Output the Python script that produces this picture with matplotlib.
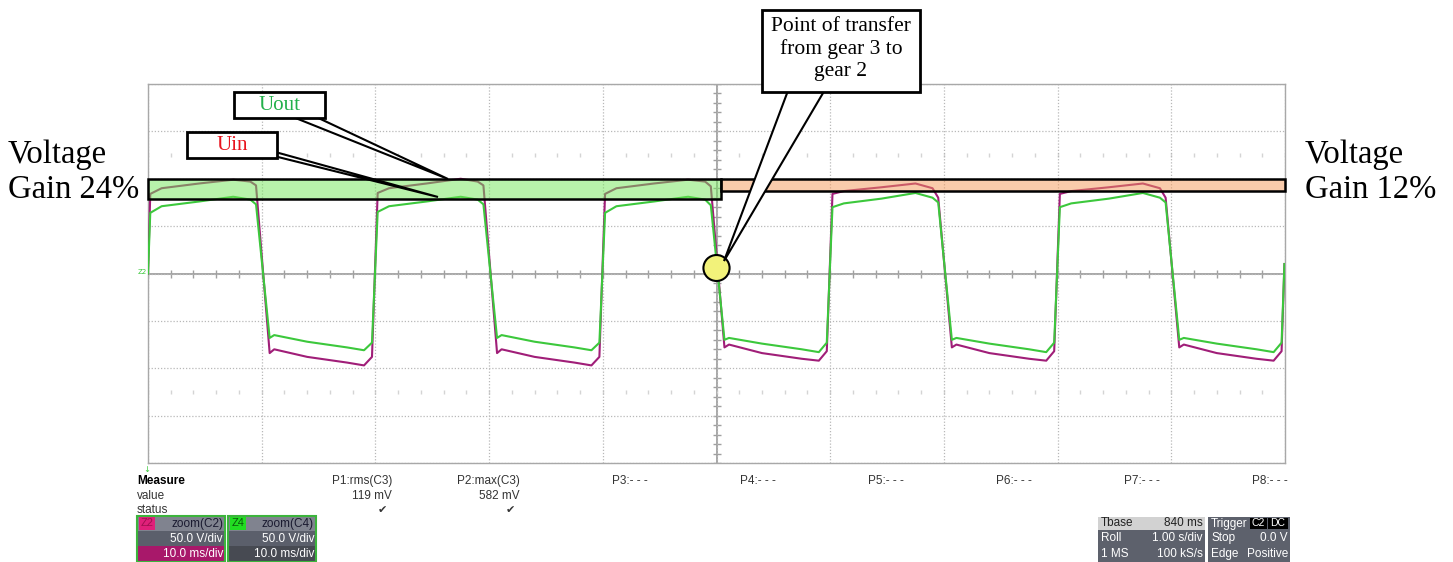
import numpy as np
import matplotlib.pyplot as plt
from matplotlib.patches import Rectangle, Polygon, Ellipse

W, H = 1453, 562

# half-cycle edge times (ms)
time_edges = [0, 10, 20, 30, 40, 50, 60, 70, 80, 90]
high_offsets = [0.2, 1.2, 4.5, 7.5, 9.0, 9.5]
low_offsets = [0.7, 1.1, 4.0, 7.5, 9.0, 9.7]

# Uout (magenta) levels per half-cycle, volts
uout_levels = [
    [84, 90, 95, 99, 97, 93],
    [-84, -80, -88, -94, -97, -88],
    [85, 90, 95, 100, 97, 93],
    [-84, -80, -88, -94, -97, -88],
    [84, 90, 95, 99, 97, 92],
    [-78, -75, -84, -90, -92, -82],
    [84, 87, 91, 95, 90, 80],
    [-78, -75, -84, -90, -92, -82],
    [84, 87, 91, 95, 90, 80],
    [-78, -75, -84, -90, -92, -82],
]
# Uin (green) levels per half-cycle, volts
uin_levels = [
    [64, 71, 76, 81, 78, 73],
    [-68, -65, -72, -78, -81, -73],
    [65, 71, 76, 81, 78, 73],
    [-68, -65, -72, -78, -81, -73],
    [64, 71, 76, 81, 78, 72],
    [-70, -68, -74, -80, -83, -73],
    [70, 74, 79, 85, 80, 75],
    [-70, -68, -74, -80, -83, -73],
    [70, 74, 79, 85, 80, 75],
    [-70, -68, -74, -80, -83, -73],
]
trace_start = (0.0, 0.0)
trace_end = (99.95, 10.0)

measure_labels = ["P1:rms(C3)", "P2:max(C3)", "P3:- - -", "P4:- - -",
                  "P5:- - -", "P6:- - -", "P7:- - -", "P8:- - -"]
measure_values = ["119 mV", "582 mV", "", "", "", "", "", ""]
measure_status = ["\u2714", "\u2714", "", "", "", "", "", ""]

SERIF = "Liberation Serif"
SANS = "Liberation Sans"


def build_trace(levels):
    t, v = [trace_start[0]], [trace_start[1]]
    for i, lv in enumerate(levels):
        offs = high_offsets if i % 2 == 0 else low_offsets
        t += [time_edges[i] + o for o in offs]
        v += lv
    t.append(trace_end[0])
    v.append(trace_end[1])
    return t, v


def P(x, y):
    return (x / W, 1 - y / H)


def ftext(x, y, s, **kw):
    fig.text(x / W, 1 - y / H, s, **kw)


def frect(x0, y0, x1, y1, **kw):
    r = Rectangle(P(x0, y1), (x1 - x0) / W, (y1 - y0) / H,
                  transform=fig.transFigure, **kw)
    fig.add_artist(r)


fig = plt.figure(figsize=(W / 100, H / 100), dpi=100)
ax = fig.add_axes([148 / W, 1 - 463 / H, (1285 - 148) / W, (463 - 84) / H])
ax.set_xlim(0, 100)
ax.set_ylim(-200, 200)
ax.set_xticks(np.arange(0, 101, 10))
ax.set_yticks(np.arange(-200, 201, 50))
ax.tick_params(length=0, labelleft=False, labelbottom=False)
ax.grid(True, ls=(0, (1, 1.5)), color="#b8b8b8", lw=0.9)
for sp in ax.spines.values():
    sp.set_color("#a8a8a8")
    sp.set_linewidth(1.0)

# centre crosshair with minor ticks
ax.axhline(0, color="#a0a0a0", lw=1.3, zorder=1)
ax.axvline(50, color="#a0a0a0", lw=1.3, zorder=1)
xt = np.arange(0, 100.1, 2)
yt = np.arange(-200, 200.1, 10)
ax.plot(xt, np.zeros_like(xt), "|", ms=6, color="#a0a0a0", zorder=1)
ax.plot(np.full_like(yt, 50), yt, "_", ms=6, color="#a0a0a0", zorder=1)
for yy in (125, -125):
    ax.plot(xt, np.full_like(xt, yy), "|", ms=3, color="#d4d4d4", zorder=1)

t_out, v_out = build_trace(uout_levels)
t_in, v_in = build_trace(uin_levels)
ax.plot(t_out, v_out, color="#a01e78", lw=1.5, zorder=3)
ax.plot(t_in, v_in, color="#3cc83c", lw=1.5, zorder=4)

# gain bands (translucent)
ax.add_patch(Rectangle((0, 78.6), 50.4, 21.1, facecolor=(0.45, 0.9, 0.35, 0.5),
                       edgecolor="black", lw=1.8, clip_on=False, zorder=5))
ax.add_patch(Rectangle((50.4, 87.0), 49.6, 12.7, facecolor=(0.96, 0.6, 0.35, 0.5),
                       edgecolor="black", lw=1.8, clip_on=False, zorder=5))
ax.add_patch(Ellipse((50, 5.8), 2.3, 27.4, facecolor="#f2f27a",
                     edgecolor="black", lw=1.5, zorder=7))

# Z2 marker and arrow
ftext(142, 272, "Z2", fontsize=5, color="#3cc83c", ha="center", va="center")
ftext(147, 470, "\u2193", fontsize=6, color="#3cc83c", ha="center", va="center")

# callouts
callouts = [
    # box, wedge polygon (pixel coords), text, colour
    ((234, 92, 325, 118), [(288, 115), (312, 115), (448, 179)], "Uout", "#22b04a"),
    ((187, 132, 277, 158), [(268, 150), (274, 156), (438, 197)], "Uin", "#e8141e"),
]
for (x0, y0, x1, y1), wedge, label, col in callouts:
    fig.add_artist(Polygon([P(*p) for p in wedge], closed=True, transform=fig.transFigure,
                           facecolor="white", edgecolor="black", lw=1.5, zorder=10))
    frect(x0, y0, x1, y1, facecolor="white", edgecolor="black", lw=2, zorder=11)
    ftext((x0 + x1) / 2, (y0 + y1) / 2 + 1, label, fontsize=15, family=SERIF,
          color=col, ha="center", va="center", zorder=12)

fig.add_artist(Polygon([P(789, 88), P(826, 88), P(724, 261)], closed=True,
                       transform=fig.transFigure, facecolor="white",
                       edgecolor="black", lw=1.5, zorder=10))
frect(762, 10, 920, 92, facecolor="white", edgecolor="black", lw=2, zorder=11)
ftext(841, 49, "Point of transfer\nfrom gear 3 to\ngear 2", fontsize=15.5,
      family=SERIF, ha="center", va="center", linespacing=1.2, zorder=12)

# gain labels
for x, gain in ((8, "24%"), (1305, "12%")):
    ftext(x, 163, "Voltage", fontsize=23.5, family=SERIF, va="baseline")
    ftext(x, 198, "Gain " + gain, fontsize=23.5, family=SERIF, va="baseline")

# measurement row
ftext(137, 481, "Measure", fontsize=8.5, family=SANS, weight="bold", va="center")
ftext(137, 496, "value", fontsize=8.5, family=SANS, color="#333333", va="center")
ftext(137, 510, "status", fontsize=8.5, family=SANS, color="#333333", va="center")
for i, (lab, val, st) in enumerate(zip(measure_labels, measure_values, measure_status)):
    xr = 392 + 128 * i
    ftext(xr, 481, lab, fontsize=8.5, family=SANS, color="#333333", ha="right", va="center")
    ftext(xr, 496, val, fontsize=8.5, family=SANS, color="#333333", ha="right", va="center")
    ftext(xr - 5, 510, st, fontsize=8, color="#333333", ha="right", va="center")


# bottom status panels
def panel(x0, y0, x1, rows, border):
    y = y0
    for h, face, left, right, tcol, tag in rows:
        frect(x0, y, x1, y + h, facecolor=face, edgecolor="none", zorder=11)
        if tag is not None:
            tx, tw, tface, ttxt, ttcol = tag
            frect(tx, y + 1, tx + tw, y + h - 1, facecolor=tface, edgecolor="none", zorder=12)
            ftext(tx + tw / 2, y + h / 2, ttxt, fontsize=8, family=SANS, color=ttcol,
                  ha="center", va="center", zorder=13)
        if left:
            ftext(x0 + 3, y + h / 2, left, fontsize=8.5, family=SANS, color=tcol,
                  va="center", zorder=13)
        if right:
            ftext(x1 - 2, y + h / 2, right, fontsize=8.5, family=SANS, color=tcol,
                  ha="right", va="center", zorder=13)
        y += h
    if border:
        frect(x0, y0, x1, y, facecolor="none", edgecolor=border, lw=1.5, zorder=14)


panel(137, 516, 225, [
    (15, "#80838f", "", "zoom(C2)", "#1a1a30", (139, 16, "#e0207a", "Z2", "#a01050")),
    (15, "#5b5f6b", "", "50.0 V/div", "white", None),
    (16, "#a8186a", "", "10.0 ms/div", "white", None),
], "#3cb43c")
panel(228, 516, 316, [
    (15, "#80838f", "", "zoom(C4)", "#1a1a30", (230, 16, "#22dd22", "Z4", "#0a5a0a")),
    (15, "#5b5f6b", "", "50.0 V/div", "white", None),
    (16, "#474a52", "", "10.0 ms/div", "white", None),
], "#3cb43c")
panel(1098, 517, 1205, [
    (13, "#d2d2d2", "Tbase", "840 ms", "#222222", None),
    (16, "#5d616c", "Roll", "1.00 s/div", "white", None),
    (16, "#5d616c", "1 MS", "100 kS/s", "white", None),
], None)
panel(1208, 517, 1290, [
    (13, "#5d616c", "Trigger", "", "white", None),
    (16, "#5d616c", "Stop", "0.0 V", "white", None),
    (16, "#5d616c", "Edge", "Positive", "white", None),
], None)
for tx, tw, s in ((1250, 17, "C2"), (1268, 20, "DC")):
    frect(tx, 518, tx + tw, 529, facecolor="black", edgecolor="none", zorder=12)
    ftext(tx + tw / 2, 523.5, s, fontsize=7.5, family=SANS, color="white",
          ha="center", va="center", zorder=13)

fig.savefig("out.png", dpi=100)
plt.close(fig)
